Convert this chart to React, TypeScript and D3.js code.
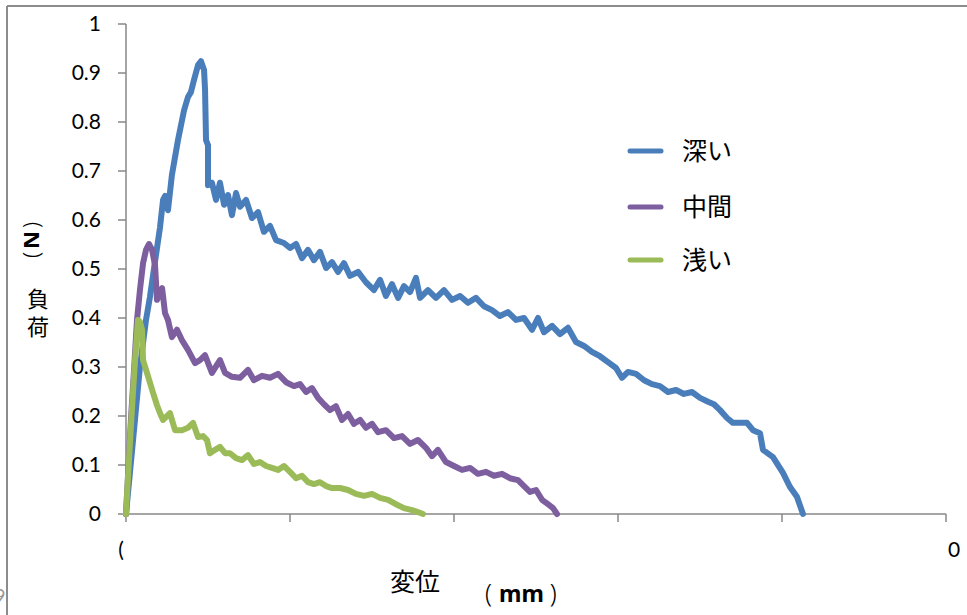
import React from 'react';
import * as d3 from 'd3';

// displacement (chart units) / load (N)
const deepX = [0, 0.043, 0.085, 0.122, 0.146, 0.183, 0.207, 0.226, 0.238, 0.256, 0.28, 0.317, 0.354, 0.378, 0.396, 0.415, 0.439, 0.457, 0.476, 0.482, 0.488, 0.5, 0.5, 0.524, 0.549, 0.573, 0.598, 0.622, 0.646, 0.671, 0.695, 0.732, 0.768, 0.805, 0.841, 0.878, 0.915, 0.963, 1.0, 1.037, 1.073, 1.11, 1.146, 1.183, 1.22, 1.256, 1.293, 1.329, 1.366, 1.415, 1.463, 1.512, 1.549, 1.585, 1.622, 1.659, 1.695, 1.732, 1.768, 1.793, 1.841, 1.89, 1.939, 1.988, 2.037, 2.085, 2.134, 2.183, 2.232, 2.28, 2.329, 2.378, 2.427, 2.476, 2.512, 2.549, 2.598, 2.646, 2.695, 2.744, 2.793, 2.841, 2.89, 2.939, 2.988, 3.024, 3.061, 3.11, 3.159, 3.207, 3.256, 3.305, 3.354, 3.402, 3.451, 3.5, 3.549, 3.585, 3.622, 3.665, 3.701, 3.787, 3.823, 3.866, 3.884, 3.945, 4.006, 4.049, 4.091, 4.128];
const deepY = [0, 0.151, 0.3, 0.396, 0.443, 0.529, 0.584, 0.641, 0.649, 0.62, 0.692, 0.763, 0.824, 0.851, 0.861, 0.886, 0.916, 0.924, 0.906, 0.865, 0.763, 0.753, 0.671, 0.676, 0.641, 0.676, 0.631, 0.651, 0.61, 0.655, 0.627, 0.641, 0.604, 0.616, 0.576, 0.588, 0.559, 0.553, 0.543, 0.551, 0.522, 0.539, 0.518, 0.535, 0.502, 0.514, 0.494, 0.512, 0.486, 0.494, 0.473, 0.457, 0.478, 0.445, 0.469, 0.441, 0.465, 0.453, 0.482, 0.441, 0.457, 0.441, 0.457, 0.437, 0.445, 0.431, 0.441, 0.424, 0.416, 0.404, 0.412, 0.396, 0.4, 0.376, 0.4, 0.371, 0.384, 0.367, 0.38, 0.351, 0.343, 0.331, 0.322, 0.31, 0.298, 0.278, 0.29, 0.286, 0.273, 0.265, 0.261, 0.249, 0.253, 0.245, 0.249, 0.237, 0.229, 0.224, 0.212, 0.196, 0.186, 0.186, 0.171, 0.165, 0.131, 0.116, 0.084, 0.055, 0.035, 0];

const midX = [0, 0.03, 0.049, 0.067, 0.085, 0.104, 0.122, 0.14, 0.159, 0.177, 0.189, 0.207, 0.22, 0.238, 0.256, 0.28, 0.311, 0.341, 0.378, 0.421, 0.451, 0.482, 0.524, 0.573, 0.604, 0.646, 0.695, 0.744, 0.78, 0.829, 0.878, 0.927, 0.976, 1.024, 1.061, 1.098, 1.134, 1.171, 1.207, 1.244, 1.28, 1.317, 1.354, 1.39, 1.427, 1.463, 1.5, 1.537, 1.585, 1.634, 1.683, 1.732, 1.78, 1.829, 1.866, 1.902, 1.951, 2.0, 2.049, 2.098, 2.146, 2.195, 2.244, 2.293, 2.341, 2.39, 2.427, 2.463, 2.5, 2.537, 2.573, 2.604, 2.628];
const midY = [0, 0.192, 0.294, 0.396, 0.457, 0.512, 0.539, 0.551, 0.539, 0.508, 0.437, 0.453, 0.461, 0.41, 0.396, 0.361, 0.376, 0.355, 0.335, 0.308, 0.314, 0.324, 0.288, 0.314, 0.288, 0.28, 0.278, 0.294, 0.273, 0.282, 0.278, 0.286, 0.269, 0.261, 0.265, 0.249, 0.257, 0.237, 0.224, 0.212, 0.22, 0.192, 0.204, 0.184, 0.192, 0.176, 0.184, 0.167, 0.171, 0.155, 0.159, 0.143, 0.151, 0.135, 0.118, 0.131, 0.106, 0.098, 0.09, 0.094, 0.082, 0.086, 0.078, 0.082, 0.073, 0.069, 0.057, 0.045, 0.049, 0.029, 0.02, 0.012, 0];

const shallowX = [0, 0.018, 0.037, 0.055, 0.073, 0.085, 0.098, 0.104, 0.128, 0.165, 0.189, 0.207, 0.226, 0.268, 0.299, 0.341, 0.378, 0.409, 0.439, 0.47, 0.494, 0.512, 0.543, 0.573, 0.604, 0.634, 0.671, 0.707, 0.744, 0.78, 0.817, 0.854, 0.89, 0.927, 0.963, 1.0, 1.037, 1.073, 1.11, 1.146, 1.183, 1.22, 1.256, 1.305, 1.354, 1.402, 1.451, 1.5, 1.549, 1.598, 1.646, 1.695, 1.744, 1.78, 1.811];
const shallowY = [0, 0.11, 0.218, 0.314, 0.396, 0.392, 0.376, 0.314, 0.288, 0.247, 0.222, 0.206, 0.192, 0.206, 0.171, 0.171, 0.176, 0.186, 0.157, 0.159, 0.151, 0.124, 0.131, 0.137, 0.124, 0.124, 0.114, 0.11, 0.12, 0.102, 0.106, 0.098, 0.094, 0.09, 0.098, 0.086, 0.073, 0.078, 0.065, 0.061, 0.065, 0.057, 0.053, 0.053, 0.049, 0.041, 0.037, 0.041, 0.033, 0.029, 0.02, 0.012, 0.008, 0.004, 0];

const seriesNames = ['深い', '中間', '浅い'];
const seriesColors = ['#4a7ebb', '#7d5fa0', '#9bbb59'];
const yTicks = [0, 0.1, 0.2, 0.3, 0.4, 0.5, 0.6, 0.7, 0.8, 0.9, 1];
const yTickLabels = ['0', '0.1', '0.2', '0.3', '0.4', '0.5', '0.6', '0.7', '0.8', '0.9', '1'];
const xTicks = [0, 1, 2, 3, 4, 5];

const W = 967;
const H = 615;
const axisColor = '#878787';
const numFont = 'Lato, "Noto Sans", sans-serif';
const jpFont = '"Noto Sans CJK JP", "Noto Sans", sans-serif';

export default function App() {
  const x = d3.scaleLinear().domain([0, 5]).range([126, 946]);
  const y = d3.scaleLinear().domain([0, 1]).range([514, 24]);

  const line = d3.line<[number, number]>().x(d => x(d[0])).y(d => y(d[1]));
  const series = [
    d3.zip(deepX, deepY) as [number, number][],
    d3.zip(midX, midY) as [number, number][],
    d3.zip(shallowX, shallowY) as [number, number][],
  ];

  const legendY = [151, 207, 260];

  return (
    <div style={{ position: 'fixed', left: 0, top: 0, width: W, height: H, background: '#fff' }}>
      <svg width={W} height={H} style={{ display: 'block' }}>
        <rect width={W} height={H} fill="#fff" />
        {/* stray label fragment left of the frame */}
        <text x={-6} y={603} fontFamily={numFont} fontSize={20} fill="#999">9</text>
        {/* chart frame */}
        <line x1={7} y1={6} x2={W} y2={6} stroke="#8c8c8c" strokeWidth={2} />
        <line x1={7} y1={6} x2={7} y2={H} stroke="#8c8c8c" strokeWidth={2} />

        {/* y axis */}
        <line x1={x(0)} y1={y(0)} x2={x(0)} y2={y(1)} stroke={axisColor} strokeWidth={1.5} />
        {yTicks.map((t, i) => (
          <g key={t}>
            <line x1={x(0) - 8} x2={x(0)} y1={y(t)} y2={y(t)} stroke={axisColor} strokeWidth={1.5} />
            <text x={101} y={y(t)} dy="0.35em" textAnchor="end" fontFamily={numFont} fontSize={21} fill="#000">
              {yTickLabels[i]}
            </text>
          </g>
        ))}

        {/* x axis */}
        <line x1={x(0)} y1={y(0)} x2={x(5)} y2={y(0)} stroke={axisColor} strokeWidth={1.5} />
        {xTicks.map(t => (
          <line key={t} x1={x(t)} x2={x(t)} y1={y(0)} y2={y(0) + 8} stroke={axisColor} strokeWidth={1.5} />
        ))}
        <text x={121} y={550} dy="0.35em" textAnchor="middle" fontFamily={numFont} fontSize={21}>(</text>
        <text x={954} y={550} dy="0.35em" textAnchor="middle" fontFamily={numFont} fontSize={21}>0</text>

        {/* series */}
        {series.map((d, i) => (
          <path key={i} d={line(d) || ''} fill="none" stroke={seriesColors[i]} strokeWidth={6}
            strokeLinejoin="round" strokeLinecap="round" />
        ))}

        {/* legend */}
        {seriesNames.map((n, i) => (
          <g key={n}>
            <line x1={630} x2={661} y1={legendY[i]} y2={legendY[i]} stroke={seriesColors[i]} strokeWidth={5} strokeLinecap="round" />
            <text x={682} y={legendY[i]} dy="0.36em" fontFamily={jpFont} fontSize={25} fill="#000">{n}</text>
          </g>
        ))}

        {/* axis titles */}
        <text x={390} y={591} fontFamily={jpFont} fontSize={25} fill="#000">変位</text>
        <text x={485} y={602} fontFamily='"Noto Sans", sans-serif' fontSize={25} fontWeight={300} fill="#000">
          <tspan>(</tspan>
          <tspan dx={7} fontWeight="bold" fontSize={23}>mm</tspan>
          <tspan dx={6}>)</tspan>
        </text>

        <text transform="translate(31,240) rotate(-90)" textAnchor="middle" dy="0.35em"
          fontFamily='"Noto Sans", sans-serif' fontSize={22} fontWeight={300} fill="#000">
          <tspan>(</tspan>
          <tspan dx={3} fontWeight="bold" fontSize={22}>N</tspan>
          <tspan dx={3}>)</tspan>
        </text>
        <text x={38} y={299} dy="0.36em" textAnchor="middle" fontFamily={jpFont} fontSize={22} fill="#000">
          <tspan x={38}>負</tspan>
          <tspan x={38} dy={28}>荷</tspan>
        </text>
      </svg>
    </div>
  );
}
